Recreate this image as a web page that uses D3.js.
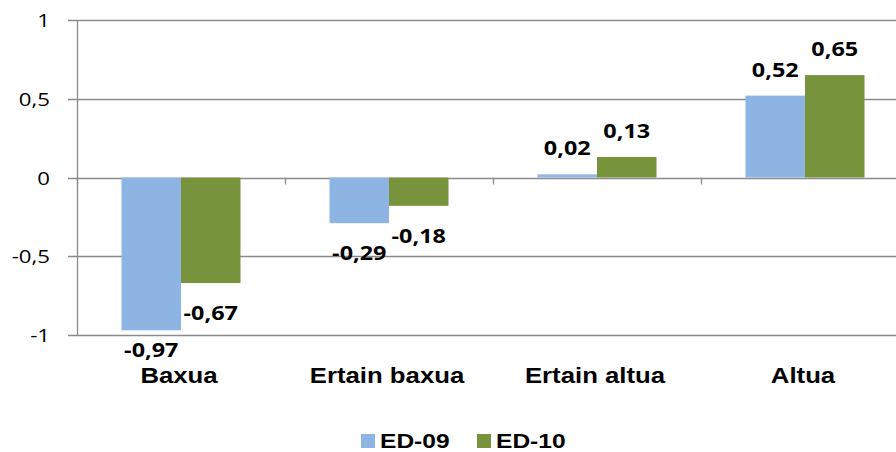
<!DOCTYPE html>
<html>
<head>
<meta charset="utf-8">
<script src="https://cdn.jsdelivr.net/npm/d3@7"></script>
<style>
  body { margin: 0; background: #fff; }
  svg { display: block; }
</style>
</head>
<body>
<div id="chart"></div>
<script>
const categories = ["Baxua", "Ertain baxua", "Ertain altua", "Altua"];
const seriesNames = ["ED-09", "ED-10"];
const ed09 = [-0.97, -0.29, 0.02, 0.52];
const ed10 = [-0.67, -0.18, 0.13, 0.65];
const yTicks = [1, 0.5, 0, -0.5, -1];
const colors = ["#8eb4e3", "#77933c"];

const width = 896, height = 452;
const stretch = 1.17; // picture is a bit wider than its text
const fmt = (v) => String(v).replace(".", ",");

const svg = d3.select("#chart").append("svg")
  .attr("width", width).attr("height", height);

const y = d3.scaleLinear().domain([-1, 1]).range([335, 20]);
// plot runs past the right edge of the window, like the source
const x = d3.scaleBand().domain(categories).range([77, 909])
  .paddingInner(0.428).paddingOuter(0.214);
const xs = d3.scaleBand().domain(seriesNames).range([0, x.bandwidth()]);
const step = x.step();

// text helper: real text, drawn a bit wider like the source
function label(g, tx, ty, str, opts) {
  return g.append("text")
    .attr("transform", `translate(${tx},${ty}) scale(${stretch},1)`)
    .attr("text-anchor", opts.anchor || "middle")
    .attr("font-family", opts.family)
    .attr("font-size", opts.size)
    .attr("font-weight", opts.weight || "normal")
    .attr("fill", "#000")
    .text(str);
}

// gridlines
svg.append("g").selectAll("line").data(yTicks).join("line")
  .attr("x1", 68).attr("x2", width)
  .attr("y1", (d) => Math.round(y(d)) + 0.5).attr("y2", (d) => Math.round(y(d)) + 0.5)
  .attr("stroke", "#8a8a8a").attr("stroke-width", 1.3);

// y axis line
svg.append("line")
  .attr("x1", 77.5).attr("x2", 77.5).attr("y1", y(1)).attr("y2", y(-1))
  .attr("stroke", "#8a8a8a").attr("stroke-width", 1.3);

// y tick labels
const yl = svg.append("g");
yTicks.forEach((t) => {
  label(yl, 50, y(t) + 7, fmt(t), { anchor: "end", family: "'Open Sans', sans-serif", size: "19px" });
});

// category ticks on the zero line
svg.append("g").selectAll("line").data(categories).join("line")
  .attr("x1", (d) => Math.round(x(d) - (step - x.bandwidth()) / 2) + 0.5)
  .attr("x2", (d) => Math.round(x(d) - (step - x.bandwidth()) / 2) + 0.5)
  .attr("y1", y(0)).attr("y2", y(0) + 7)
  .attr("stroke", "#8a8a8a").attr("stroke-width", 1.3);

// bars
const rows = categories.map((c, i) => ({ cat: c, vals: [ed09[i], ed10[i]] }));
const groups = svg.append("g").selectAll("g").data(rows).join("g")
  .attr("transform", (d) => `translate(${x(d.cat)},0)`);

groups.selectAll("rect")
  .data((d) => d.vals.map((v, j) => ({ v, s: seriesNames[j], j })))
  .join("rect")
  .attr("x", (d) => xs(d.s))
  .attr("width", xs.bandwidth())
  .attr("y", (d) => Math.min(y(d.v), y(0)))
  .attr("height", (d) => Math.abs(y(d.v) - y(0)))
  .attr("fill", (d) => colors[d.j]);

// value labels
rows.forEach((r) => {
  r.vals.forEach((v, j) => {
    const cx = x(r.cat) + xs(seriesNames[j]) + xs.bandwidth() / 2;
    const ty = v >= 0 ? y(v) - 19 : Math.min(y(v) + 37, 357);
    label(svg, cx, ty, fmt(v), { family: "'Open Sans', sans-serif", size: "20px", weight: "bold" });
  });
});

// category labels
categories.forEach((c) => {
  label(svg, x(c) + x.bandwidth() / 2 - 2, 383, c,
    { family: "'Liberation Sans', Arial, sans-serif", size: "22px", weight: "bold" });
});

// legend
const legend = svg.append("g");
const legendX = [361, 477];
seriesNames.forEach((s, j) => {
  legend.append("rect")
    .attr("x", legendX[j]).attr("y", 434).attr("width", 14).attr("height", 14)
    .attr("fill", colors[j]);
  label(legend, legendX[j] + 19, 448, s,
    { anchor: "start", family: "'Liberation Sans', Arial, sans-serif", size: "21px", weight: "bold" });
});
</script>
</body>
</html>
